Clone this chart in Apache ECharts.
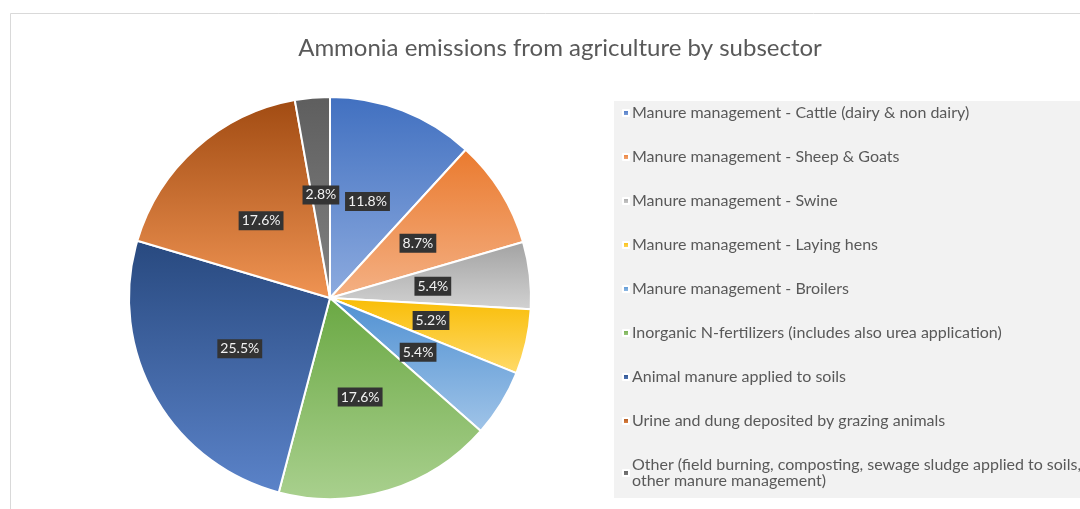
<!DOCTYPE html>
<html>
<head>
<meta charset="utf-8">
<script src="https://cdn.jsdelivr.net/npm/echarts@6/dist/echarts.min.js"></script>
<style>
html, body { margin: 0; padding: 0; background: #fff; }
#myChart { width: 1080px; height: 509px; }
</style>
</head>
<body>
<div id="myChart"></div>
<script>
// 各分项名称
var categories = [
    'Manure management - Cattle (dairy & non dairy)',
    'Manure management - Sheep & Goats',
    'Manure management - Swine',
    'Manure management - Laying hens',
    'Manure management - Broilers',
    'Inorganic N-fertilizers (includes also urea application)',
    'Animal manure applied to soils',
    'Urine and dung deposited by grazing animals',
    'Other (field burning, composting, sewage sludge applied to soils, other manure management)'
];
// 百分比
var shares = [11.8, 8.7, 5.4, 5.2, 5.4, 17.6, 25.5, 17.6, 2.8];

// 渐变色 (上深下浅)
var topColors = ['#4170c0', '#ea7a2e', '#a2a2a2', '#f9bd05', '#4f90d2', '#6aa843', '#28497f', '#a14b12', '#5e5e5e'];
var bottomColors = ['#8dabdf', '#f4b185', '#d2d2d2', '#ffda6a', '#a0c4e8', '#a9d08e', '#5b83c9', '#f09453', '#828282'];

var chart = echarts.init(document.getElementById('myChart'));

var pieData = categories.map(function (name, i) {
    return {
        name: name,
        value: shares[i],
        itemStyle: {
            color: new echarts.graphic.LinearGradient(0, 0, 0, 1, [
                { offset: 0, color: topColors[i] },
                { offset: 1, color: bottomColors[i] }
            ])
        }
    };
});

var option = {
    backgroundColor: '#fff',
    animation: false,
    graphic: [
        {
            type: 'rect',
            z: -10,
            shape: { x: 10.5, y: 13.5, width: 1200, height: 600 },
            style: { fill: 'none', stroke: '#d9d9d9', lineWidth: 1 }
        },
        {
            type: 'rect',
            z: -5,
            shape: { x: 614, y: 101, width: 470, height: 397 },
            style: { fill: '#f2f2f2' }
        }
    ],
    title: {
        text: 'Ammonia emissions from agriculture by subsector',
        left: 555,
        top: 31,
        textAlign: 'center',
        textStyle: {
            fontFamily: 'Lato',
            fontSize: 24,
            fontWeight: 'normal',
            color: '#595959'
        }
    },
    legend: {
        orient: 'vertical',
        left: 622,
        top: 105,
        height: 400,
        padding: 0,
        itemGap: 28,
        itemWidth: 6,
        itemHeight: 6,
        icon: 'rect',
        data: categories,
        formatter: function (name) {
            return name.replace('soils, ', 'soils,\n');
        },
        textStyle: {
            fontFamily: 'Lato',
            fontSize: 16,
            lineHeight: 16,
            color: '#595959',
            padding: [0, 0, 0, -2]
        }
    },
    series: [
        {
            type: 'pie',
            center: [330, 298],
            radius: 201,
            startAngle: 90,
            clockwise: true,
            itemStyle: {
                borderColor: '#fff',
                borderWidth: 2
            },
            label: {
                position: 'inside',
                formatter: function (p) {
                    return p.value.toFixed(1) + '%';
                },
                fontFamily: 'Lato',
                fontSize: 14,
                color: '#f2f2f2',
                backgroundColor: '#333333',
                padding: [3, 3, 2, 3]
            },
            labelLine: { show: false },
            emphasis: { disabled: true },
            data: pieData
        }
    ]
};

chart.setOption(option);
</script>
</body>
</html>
